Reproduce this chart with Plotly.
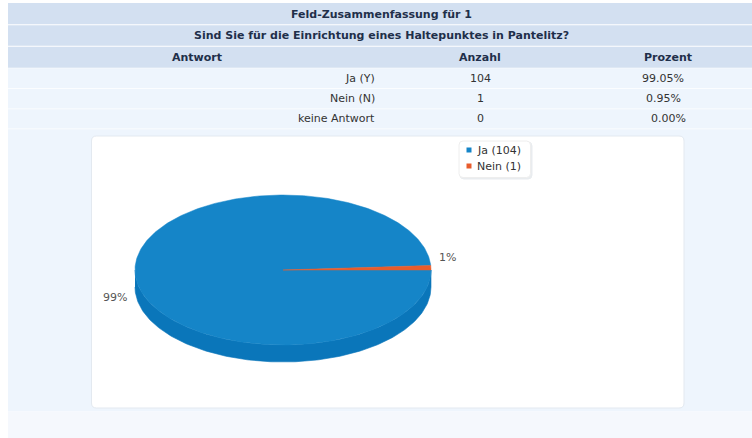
import numpy as np
import plotly.graph_objects as go

# ---------------- data ----------------
title_text = "Feld-Zusammenfassung für 1"
question_text = "Sind Sie für die Einrichtung eines Haltepunktes in Pantelitz?"
col_headers = ["Antwort", "Anzahl", "Prozent"]
answers = ["Ja (Y)", "Nein (N)", "keine Antwort"]
counts = [104, 1, 0]
percents = ["99.05%", "0.95%", "0.00%"]
pie_labels = ["Ja (104)", "Nein (1)"]
pie_values = [104, 1]

# ---------------- style ----------------
W, H = 752, 438
HEAD_BG = "#d3e0f1"
ROW_BG = "#eef5fd"
LOW_BG = "#f5f8fd"
HEAD_COL = "#1f2f4a"
TXT_COL = "#333333"
FONT = "DejaVu Sans, Verdana, sans-serif"
BLUE_TOP = "#1585c8"
BLUE_SIDE = "#0a76ba"
ORANGE_TOP = "#e85c2c"
ORANGE_SIDE = "#c9471e"
pie_top = [BLUE_TOP, ORANGE_TOP]
pie_side = [BLUE_SIDE, ORANGE_SIDE]

fig = go.Figure()
shapes = []
ann = []

def rect(x0, y0, x1, y1, color, line=None, layer="below"):
    shapes.append(dict(type="rect", x0=x0, y0=y0, x1=x1, y1=y1, fillcolor=color,
                       line=dict(width=0) if line is None else line, layer=layer))

def rounded(x0, y0, x1, y1, r, fill, lc, lw=1, layer="below"):
    p = (f"M{x0+r},{y0} L{x1-r},{y0} Q{x1},{y0} {x1},{y0+r} L{x1},{y1-r} "
         f"Q{x1},{y1} {x1-r},{y1} L{x0+r},{y1} Q{x0},{y1} {x0},{y1-r} "
         f"L{x0},{y0+r} Q{x0},{y0} {x0+r},{y0} Z")
    shapes.append(dict(type="path", path=p, fillcolor=fill,
                       line=dict(color=lc, width=lw), layer=layer))

def text(x, y, s, size=11, color=TXT_COL, bold=False, xanchor="center"):
    ann.append(dict(x=x, y=y, text=f"<b>{s}</b>" if bold else s, showarrow=False,
                    xanchor=xanchor, yanchor="middle",
                    font=dict(family=FONT, size=size, color=color)))

# page background blocks
rect(8, 3, W, 24.3, HEAD_BG)
rect(8, 25.3, W, 45.7, HEAD_BG)
rect(8, 46.7, W, 67.7, HEAD_BG)
row_tops = [68.3, 89, 109.3]
row_bots = [88.3, 108.6, 128.4]
for t, b in zip(row_tops, row_bots):
    rect(8, t, W, b, ROW_BG)
rect(8, 129.3, W, 411.5, ROW_BG)
rect(8, 411.5, W, H, LOW_BG)

# header texts
text(381, 14, title_text, bold=True, color=HEAD_COL)
text(381, 35.5, question_text, bold=True, color=HEAD_COL)
col_x = [197, 480, 668]
for cx_, h in zip(col_x, col_headers):
    text(cx_, 57.5, h, bold=True, color=HEAD_COL)

# data rows
pct_x = [686, 683, 688]
for i in range(len(answers)):
    yc = (row_tops[i] + row_bots[i]) / 2
    text(377, yc, answers[i], xanchor="right")
    text(480, yc, str(counts[i]))
    text(pct_x[i], yc, percents[i], xanchor="right")

# chart card
rounded(91.5, 136, 684, 408, 5, "white", "#e3e9f0")

# ---------------- 3D pie ----------------
cx, cy, rx, ry, depth = 283, 270, 148, 75, 17
vals = np.array(pie_values, dtype=float)
shares = vals / vals.sum()
# orange slice begins at 0 deg going counter-clockwise; blue takes the rest
spans = shares * 2 * np.pi
starts = [spans[1], 0.0]
ends = [2 * np.pi, spans[1]]

def pt(a, dy=0):
    return cx + rx * np.cos(a), cy - ry * np.sin(a) + dy

# side walls (front half visible: angles between pi and 2pi)
for i in range(len(vals)):
    a0, a1 = max(starts[i], np.pi), min(ends[i], 2 * np.pi)
    if a1 <= a0:
        continue
    a = np.linspace(a0, a1, 200)
    xs, ys = pt(a)
    xb, yb = pt(a[::-1], depth)
    fig.add_trace(go.Scatter(x=np.r_[xs, xb], y=np.r_[ys, yb], fill="toself",
                             fillcolor=pie_side[i], mode="lines",
                             line=dict(width=0.6, color=pie_side[i]),
                             hoverinfo="skip", showlegend=False))
# top faces
for i in range(len(vals)):
    a = np.linspace(starts[i], ends[i], 400)
    xs, ys = pt(a)
    fig.add_trace(go.Scatter(x=np.r_[cx, xs, cx], y=np.r_[cy, ys, cy], fill="toself",
                             fillcolor=pie_top[i], mode="lines",
                             line=dict(width=0.5, color=pie_top[i]),
                             hoverinfo="skip", showlegend=False))

# percentage labels
for i in range(len(vals)):
    mid = (starts[i] + ends[i]) / 2
    lx = cx + (rx + 6) * np.cos(mid)
    pct = f"{round(shares[i] * 100)}%"
    if np.cos(mid) < 0:
        text(lx, 297, pct, color="#555555", xanchor="right")
    else:
        text(lx, 257, pct, color="#555555", xanchor="left")

# legend
rounded(460, 142, 532, 179, 4, "#e9ecef", "#e9ecef")
rounded(459, 141, 530.5, 177.5, 4, "white", "#eeeeee")
leg_y = [150, 166]
fig.add_trace(go.Scatter(x=[469, 469], y=leg_y, mode="markers",
                         marker=dict(symbol="square", size=5, color=pie_top),
                         hoverinfo="skip", showlegend=False))
for yv, lab in zip(leg_y, pie_labels):
    text(475, yv, lab, color="#333333", xanchor="left")

fig.update_layout(
    width=W, height=H, margin=dict(l=0, r=0, t=0, b=0),
    paper_bgcolor="white", plot_bgcolor="white",
    xaxis=dict(range=[0, W], visible=False, fixedrange=True),
    yaxis=dict(range=[H, 0], visible=False, fixedrange=True),
    shapes=shapes, annotations=ann, showlegend=False,
)
fig.write_html("out.html", config={"displayModeBar": False},
               post_script="document.body.style.margin='0px';document.body.style.overflow='hidden';")
